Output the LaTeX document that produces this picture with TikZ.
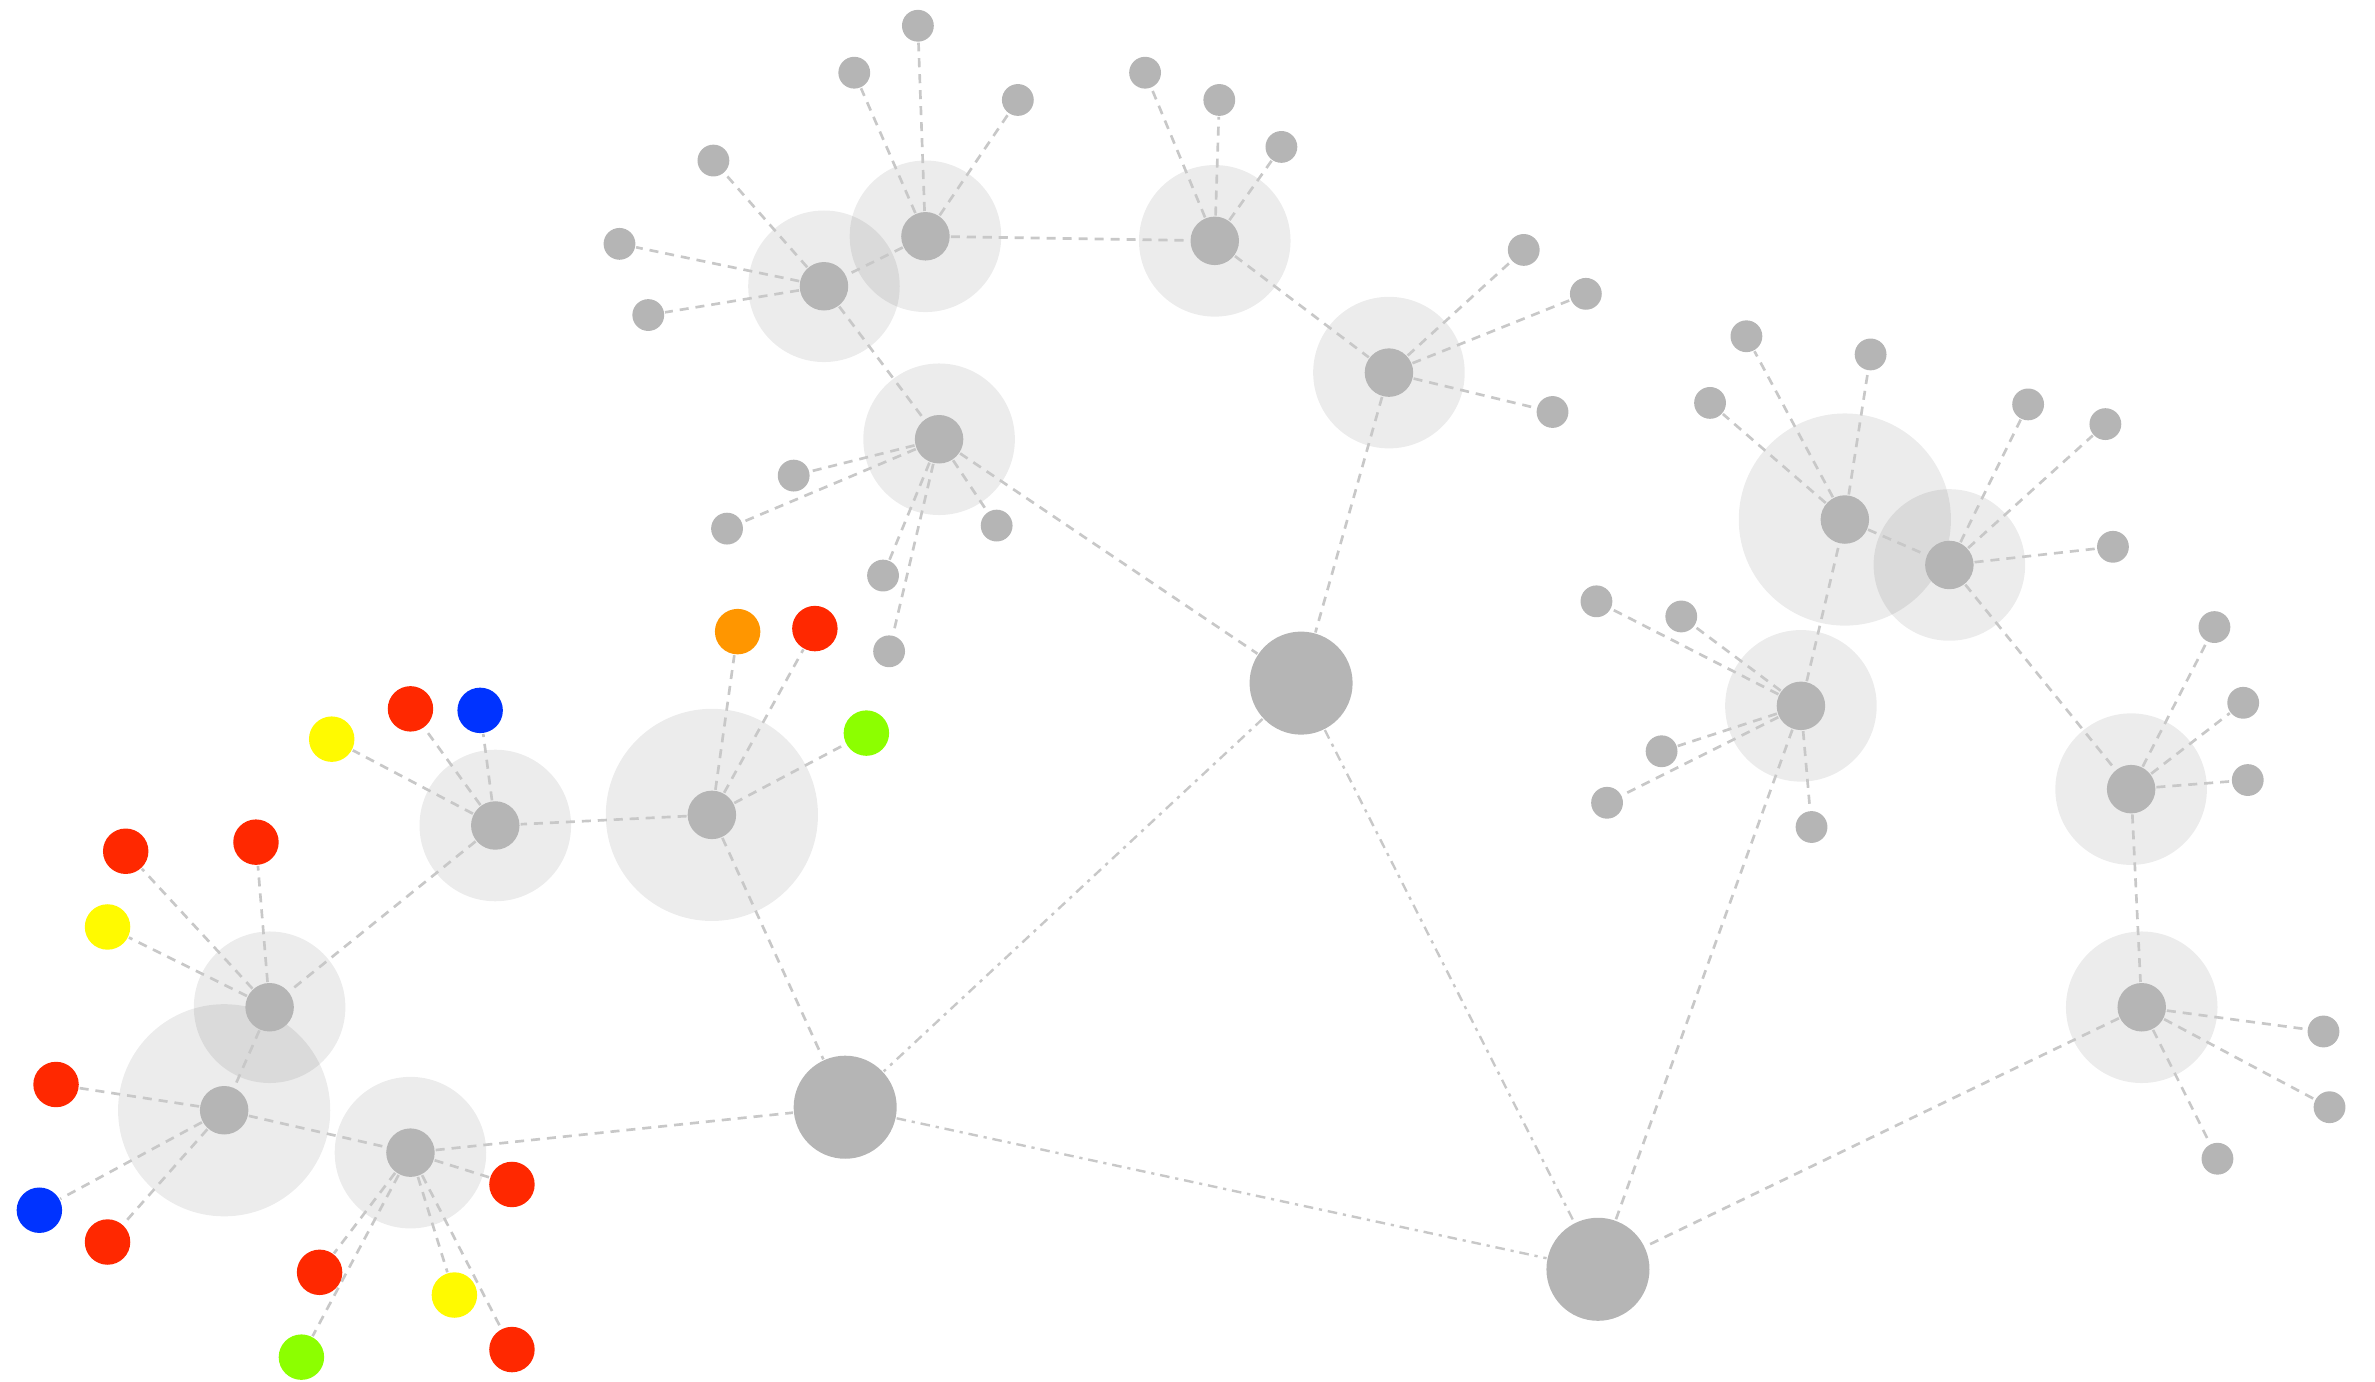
\documentclass[tikz,border=0pt]{standalone}
\definecolor{nodegray}{RGB}{181,181,181}
\definecolor{edgec}{RGB}{200,200,200}
\definecolor{cred}{RGB}{255,40,0}
\definecolor{cblue}{RGB}{0,51,255}
\definecolor{cyellow}{RGB}{255,250,0}
\definecolor{cgreen}{RGB}{140,255,0}
\definecolor{corange}{RGB}{255,150,0}
\pgfdeclarelayer{halolayer}
\pgfdeclarelayer{edgelayer}
\pgfsetlayers{halolayer,edgelayer,main}
\begin{document}
\begin{tikzpicture}[x=0.01cm,y=-0.01cm,
  gnode/.style={circle,fill=nodegray,inner sep=0pt,minimum size=0.32cm},
  hub/.style={circle,fill=nodegray,inner sep=0pt,minimum size=0.68cm},
  leaf/.style={circle,fill=nodegray,inner sep=0pt,minimum size=0.21cm},
  cleaf/.style={circle,fill=#1,inner sep=0pt,minimum size=0.30cm},
  halo/.style={circle,fill=black,fill opacity=0.075,inner sep=0pt,minimum size=#1},
  link/.style={draw=edgec,line width=0.5pt,dash pattern=on 1.7pt off 1.3pt},
  hublink/.style={draw=edgec,line width=0.45pt,dash pattern=on 1.8pt off 1.1pt on 0.6pt off 1.1pt}]
\useasboundingbox (0,0) rectangle (1568,912);
% hubs
\node[hub] (H1) at (859,451) {};
\node[hub] (H2) at (558,731) {};
\node[hub] (H3) at (1055,838) {};
% medium nodes
\foreach \n/\x/\y in {A/611/156, B/544/189, C/802/159, D/917/246, E/620/290,
  F/470/538, G/327/545, I/178/665, J/148/733, K/271/761,
  L/1218/343, M/1287/373, N/1189/466, O/1407/521, P/1414/665}
  \node[gnode] (\n) at (\x,\y) {};
% gray leaves
\foreach \n/\x/\y in {A1/606/17, A2/564/48, A3/672/66,
  B1/471/106, B2/409/161, B3/428/208,
  C1/756/48, C2/805/66, C3/846/97,
  D1/1006/165, D2/1047/194, D3/1025/272,
  E1/524/314, E2/480/349, E3/658/347, E4/583/380, E5/587/430,
  L1/1153/222, L2/1129/266, L3/1235/234,
  M1/1339/267, M2/1390/280, M3/1395/361,
  N1/1054/397, N2/1110/407, N3/1097/496, N4/1061/530, N5/1196/546,
  O1/1462/414, O2/1481/464, O3/1484/515,
  P1/1534/681, P2/1538/731, P3/1464/765}
  \node[leaf] (\n) at (\x,\y) {};
% coloured leaves
\foreach \n/\x/\y/\c in {F1/487/417/corange, F2/538/415/cred, F3/572/484/cgreen,
  G1/219/488/cyellow, G2/271/468/cred, G3/317/469/cblue,
  I1/83/562/cred, I2/169/556/cred, I3/71/612/cyellow,
  J1/37/716/cred, J2/26/799/cblue, J3/71/820/cred,
  K1/338/782/cred, K2/211/840/cred, K3/300/855/cyellow, K4/199/896/cgreen, K5/338/891/cred}
  \node[cleaf=\c] (\n) at (\x,\y) {};
% halos
\begin{pgfonlayer}{halolayer}
\foreach \n in {A,B,C,D,E,G,I,K,M,N,O,P}
  \node[halo=1.0cm] (h\n) at (\n) {};
\foreach \n in {F,J,L}
  \node[halo=1.4cm] (h\n) at (\n) {};
\end{pgfonlayer}
% edges
\begin{pgfonlayer}{edgelayer}
\foreach \a/\b in {A/B, A/C, C/D, B/E, E/H1, D/H1, F/G, F/H2, G/I, I/J, J/K, K/H2,
  N/H3, N/L, L/M, M/O, O/P, P/H3,
  A/A1, A/A2, A/A3, B/B1, B/B2, B/B3, C/C1, C/C2, C/C3, D/D1, D/D2, D/D3,
  E/E1, E/E2, E/E3, E/E4, E/E5, F/F1, F/F2, F/F3, G/G1, G/G2, G/G3,
  I/I1, I/I2, I/I3, J/J1, J/J2, J/J3, K/K1, K/K2, K/K3, K/K4, K/K5,
  L/L1, L/L2, L/L3, M/M1, M/M2, M/M3, N/N1, N/N2, N/N3, N/N4, N/N5,
  O/O1, O/O2, O/O3, P/P1, P/P2, P/P3}
  \draw[link] (\a) -- (\b);
\foreach \a/\b in {H1/H2, H2/H3, H1/H3}
  \draw[hublink] (\a) -- (\b);
\end{pgfonlayer}
\end{tikzpicture}
\end{document}
